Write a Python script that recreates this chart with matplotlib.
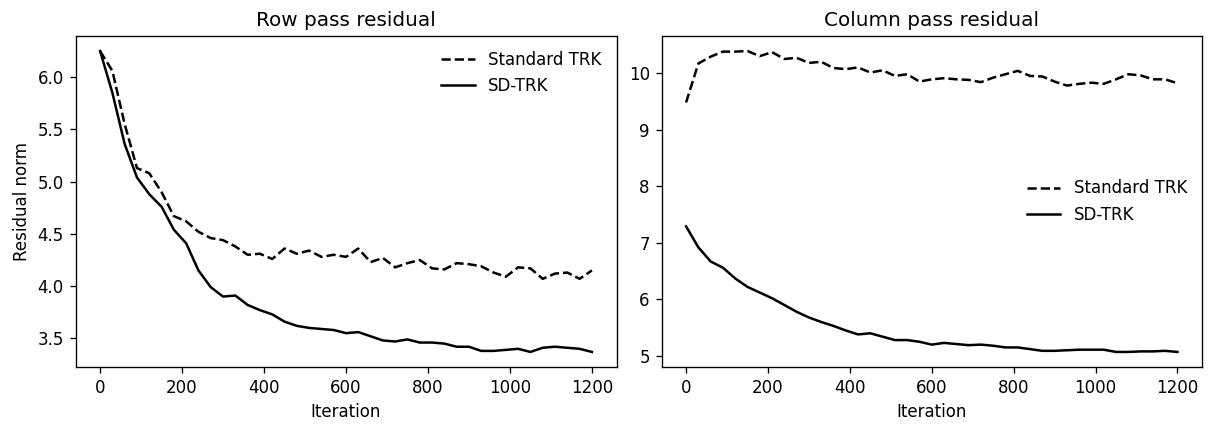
import numpy as np
import matplotlib
matplotlib.use("Agg")
import matplotlib.pyplot as plt

# iterations sampled every 30 steps
iterations = np.arange(0, 1201, 30)

row_standard = [6.25, 6.06, 5.55, 5.13, 5.08, 4.90, 4.67, 4.62, 4.52, 4.46, 4.44,
                4.38, 4.30, 4.31, 4.26, 4.36, 4.31, 4.34, 4.28, 4.30, 4.28, 4.36,
                4.23, 4.27, 4.18, 4.22, 4.25, 4.17, 4.16, 4.22, 4.21, 4.19, 4.13,
                4.09, 4.18, 4.17, 4.07, 4.12, 4.13, 4.07, 4.15]
row_sd = [6.25, 5.85, 5.36, 5.04, 4.88, 4.76, 4.54, 4.41, 4.15, 3.99, 3.90,
          3.91, 3.82, 3.77, 3.73, 3.66, 3.62, 3.60, 3.59, 3.58, 3.55, 3.56,
          3.52, 3.48, 3.47, 3.49, 3.46, 3.46, 3.45, 3.42, 3.42, 3.38, 3.38,
          3.39, 3.40, 3.37, 3.41, 3.42, 3.41, 3.40, 3.37]

col_standard = [9.48, 10.17, 10.29, 10.38, 10.38, 10.39, 10.30, 10.37, 10.25, 10.27, 10.18,
                10.20, 10.09, 10.07, 10.10, 10.01, 10.05, 9.95, 9.98, 9.85, 9.89, 9.91,
                9.89, 9.88, 9.84, 9.92, 9.98, 10.04, 9.95, 9.94, 9.85, 9.78, 9.81,
                9.83, 9.81, 9.89, 9.98, 9.96, 9.89, 9.89, 9.82]
col_sd = [7.29, 6.92, 6.67, 6.56, 6.37, 6.22, 6.12, 6.02, 5.90, 5.78, 5.68,
          5.60, 5.53, 5.45, 5.38, 5.40, 5.34, 5.28, 5.28, 5.25, 5.20, 5.23,
          5.21, 5.19, 5.20, 5.18, 5.15, 5.15, 5.12, 5.09, 5.09, 5.10, 5.11,
          5.11, 5.11, 5.07, 5.07, 5.08, 5.08, 5.09, 5.07]

fig = plt.figure(figsize=(1213 / 120, 433 / 120), dpi=120)

ax1 = fig.add_axes([75.5 / 1213, 1 - 367 / 433, (616.5 - 75.5) / 1213, (367 - 36) / 433])
ax1.plot(iterations, row_standard, "k--", label="Standard TRK")
ax1.plot(iterations, row_sd, "k-", label="SD-TRK")
ax1.set_title("Row pass residual", fontsize=12)
ax1.set_xlabel("Iteration")
ax1.set_ylabel("Residual norm")
ax1.set_xticks([0, 200, 400, 600, 800, 1000, 1200])
ax1.legend(loc="upper right", frameon=False)

ax2 = fig.add_axes([661.5 / 1213, 1 - 367 / 433, (1202 - 661.5) / 1213, (367 - 36) / 433])
ax2.plot(iterations, col_standard, "k--", label="Standard TRK")
ax2.plot(iterations, col_sd, "k-", label="SD-TRK")
ax2.set_title("Column pass residual", fontsize=12)
ax2.set_xlabel("Iteration")
ax2.set_xticks([0, 200, 400, 600, 800, 1000, 1200])
ax2.legend(loc="center right", frameon=False)

fig.savefig("out.png", dpi=120)
